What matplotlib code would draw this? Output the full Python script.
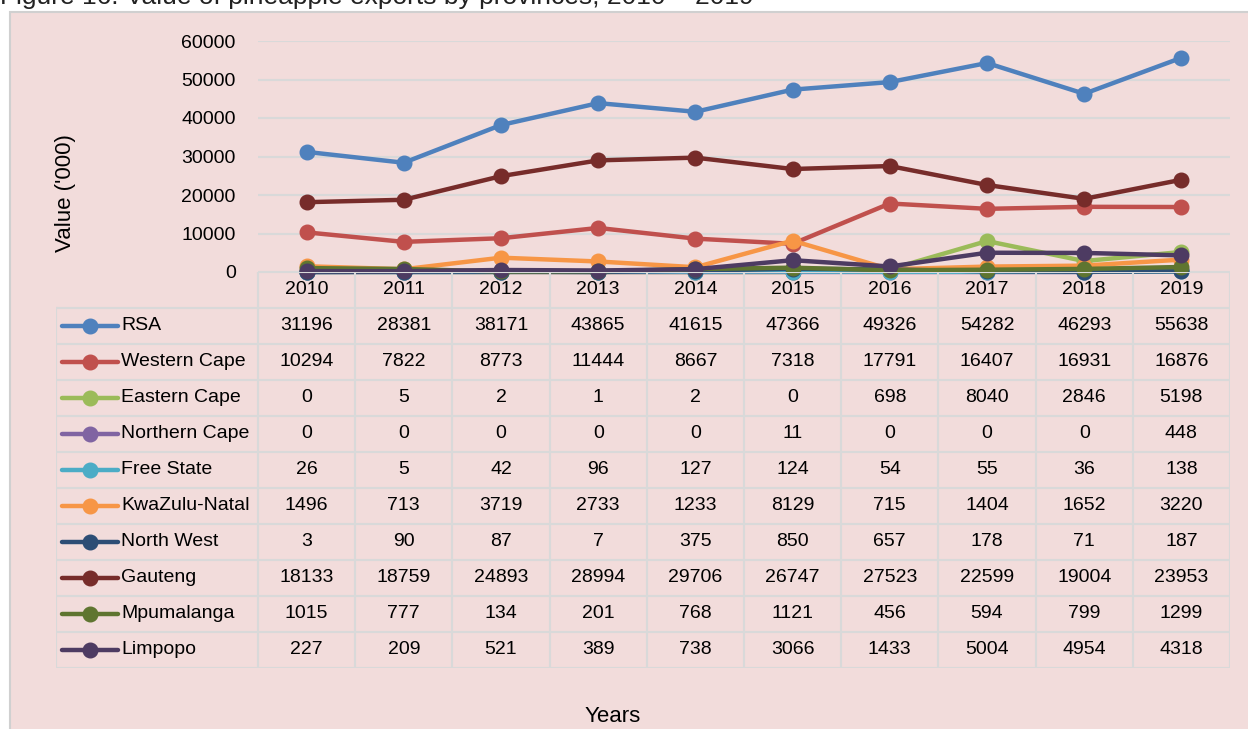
import matplotlib
matplotlib.use("Agg")
import matplotlib.pyplot as plt
from matplotlib.lines import Line2D
from matplotlib.patches import Rectangle
from matplotlib import font_manager

years = ["2010", "2011", "2012", "2013", "2014", "2015", "2016", "2017", "2018", "2019"]
series_names = ["RSA", "Western Cape", "Eastern Cape", "Northern Cape", "Free State",
                "KwaZulu-Natal", "North West", "Gauteng", "Mpumalanga", "Limpopo"]
rsa = [31196, 28381, 38171, 43865, 41615, 47366, 49326, 54282, 46293, 55638]
western_cape = [10294, 7822, 8773, 11444, 8667, 7318, 17791, 16407, 16931, 16876]
eastern_cape = [0, 5, 2, 1, 2, 0, 698, 8040, 2846, 5198]
northern_cape = [0, 0, 0, 0, 0, 11, 0, 0, 0, 448]
free_state = [26, 5, 42, 96, 127, 124, 54, 55, 36, 138]
kwazulu_natal = [1496, 713, 3719, 2733, 1233, 8129, 715, 1404, 1652, 3220]
north_west = [3, 90, 87, 7, 375, 850, 657, 178, 71, 187]
gauteng = [18133, 18759, 24893, 28994, 29706, 26747, 27523, 22599, 19004, 23953]
mpumalanga = [1015, 777, 134, 201, 768, 1121, 456, 594, 799, 1299]
limpopo = [227, 209, 521, 389, 738, 3066, 1433, 5004, 4954, 4318]
series_values = [rsa, western_cape, eastern_cape, northern_cape, free_state,
                 kwazulu_natal, north_west, gauteng, mpumalanga, limpopo]
colors = ["#4f81bd", "#c0504d", "#9bbb59", "#8064a2", "#4bacc6",
          "#f79646", "#2c4d75", "#772c2a", "#5f7530", "#4d3b62"]
yticks = [0, 10000, 20000, 30000, 40000, 50000, 60000]

names = {f.name for f in font_manager.fontManager.ttflist}
narrow = "Liberation Sans Narrow" in names
if narrow:
    plt.rcParams['font.family'] = ['Liberation Sans Narrow', 'DejaVu Sans']
    fs, fs_lab, fs_title = 16.5, 18, 22
else:
    plt.rcParams['font.family'] = ['Liberation Sans', 'DejaVu Sans']
    fs, fs_lab, fs_title = 14, 16, 19

W, H = 1248, 729
fig = plt.figure(figsize=(W / 100, H / 100), dpi=100)
fig.patch.set_facecolor("white")

bg = "#f2dcdb"
grid_c = "#d9d9d9"
rect = Rectangle((10 / W, -0.01), 1.5, 1.01 - 12 / H, transform=fig.transFigure,
                 facecolor=bg, edgecolor="#d0d0d0", linewidth=1.5, zorder=-10)
fig.add_artist(rect)

fig.text(0, 1 - 4 / H, "Figure 16: Value of pineapple exports by provinces, 2010 \u2013 2019",
         fontsize=fs_title, va="baseline", ha="left", color="#222222")

x0, x1 = 258, 1230
ytop, y0 = 41, 272
ax = fig.add_axes([x0 / W, 1 - y0 / H, (x1 - x0) / W, (y0 - ytop) / H])
ax.set_facecolor("none")
n = len(years)
xs = list(range(n))
for name, vals, c in zip(series_names, series_values, colors):
    ax.plot(xs, vals, color=c, linewidth=3.2, marker="o", markersize=10.5,
            clip_on=False, zorder=3, solid_capstyle="round")
ax.set_xlim(-0.5, n - 0.5)
ax.set_ylim(0, 60000)
ax.set_yticks(yticks)
ax.set_yticklabels([str(v) for v in yticks], fontsize=fs)
ax.tick_params(axis="y", length=0, pad=16)
ax.set_xticks([])
for s in ax.spines.values():
    s.set_visible(False)
ax.yaxis.grid(True, color=grid_c, linewidth=1.5)
ax.set_axisbelow(True)

fig.text(65 / W, 1 - 193 / H, "Value ('000)", rotation=90, fontsize=fs_lab,
         ha="center", va="center")
fig.text(613 / W, 1 - 717 / H, "Years", fontsize=fs_lab, ha="center", va="center")

# data table
tl, tb = 56, 668
colw = (x1 - x0) / n
lab_w = (x0 - tl) / colw
nrows = len(series_names) + 1
tax = fig.add_axes([tl / W, 1 - tb / H, (x1 - tl) / W, (tb - y0) / H])
tax.set_facecolor("none")
tax.set_xlim(-0.5 - lab_w, n - 0.5)
tax.set_ylim(nrows, 0)
tax.axis("off")
lw = 1.5
tax.plot([-0.5, n - 0.5], [0, 0], color=grid_c, lw=lw)
for r in range(1, nrows + 1):
    tax.plot([-0.5 - lab_w, n - 0.5], [r, r], color=grid_c, lw=lw)
tax.plot([-0.5 - lab_w, -0.5 - lab_w], [1, nrows], color=grid_c, lw=lw)
for c in range(n + 1):
    tax.plot([c - 0.5, c - 0.5], [0, nrows], color=grid_c, lw=lw)
for i, yr in enumerate(years):
    tax.text(i, 0.5, yr, ha="center", va="center", fontsize=fs)
key_l = -0.5 - lab_w + 6 / colw
key_r = -0.5 - lab_w + 62 / colw
for r, (name, vals, c) in enumerate(zip(series_names, series_values, colors), start=1):
    tax.add_line(Line2D([key_l, key_r], [r + 0.5, r + 0.5], color=c, lw=3.2,
                        solid_capstyle="round"))
    tax.plot([(key_l + key_r) / 2], [r + 0.5], marker="o", markersize=10.5, color=c)
    tax.text(key_r + 3 / colw, r + 0.5, name, ha="left", va="center", fontsize=fs)
    for i, v in enumerate(vals):
        tax.text(i, r + 0.5, str(v), ha="center", va="center", fontsize=fs)

fig.savefig("out.png", dpi=100, facecolor=fig.get_facecolor())
